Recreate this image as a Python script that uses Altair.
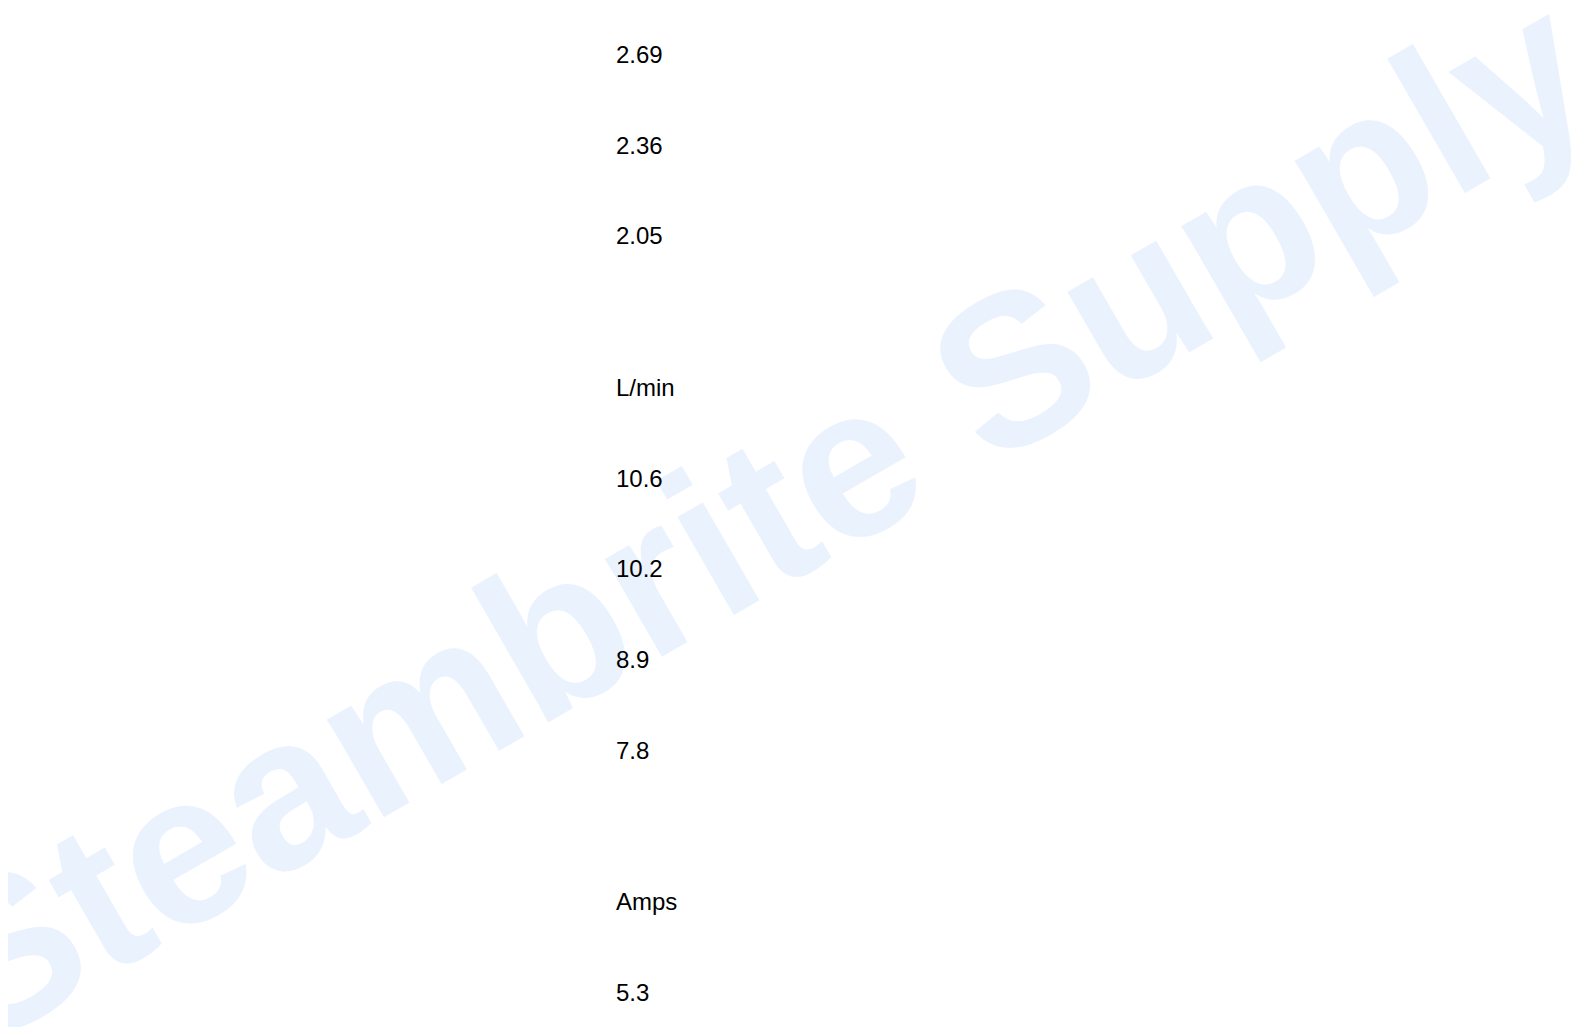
import altair as alt
import pandas as pd

# Values, in display order, grouped as shown
group_a = ["2.69", "2.36", "2.05"]
group_b = ["L/min", "10.6", "10.2", "8.9", "7.8"]
group_c = ["Amps", "5.3"]
watermark = ["Steambrite Supply"]

groups = [group_a, group_b, group_c]
rows = []
i = 0
for g, labels in enumerate(groups):
    for lab in labels:
        rows.append({"label": lab, "g": g, "i": i})
        i += 1
df = pd.DataFrame(rows)

FONT = "Liberation Sans"
W, H = 1572, 1019

labels_layer = (
    alt.Chart(df)
    .transform_calculate(slot="3 * datum.i + 2 * datum.g")
    .mark_text(align="left", baseline="middle", fontSize=24, font=FONT, color="#000000")
    .encode(
        x=alt.value(608),
        y=alt.Y("slot:Q", axis=None,
                scale=alt.Scale(domain=[-1.58, 32.09], reverse=True, zero=False, nice=False)),
        text="label:N",
    )
)

wm_df = pd.DataFrame({"t": watermark})
wm_layer = (
    alt.Chart(wm_df)
    .mark_text(angle=330, fontSize=214, fontWeight="bold", font=FONT, color="#eaf2fe",
               align="center", baseline="alphabetic")
    .encode(x=alt.value(785), y=alt.value(573), text="t:N")
)

chart = (
    alt.layer(wm_layer, labels_layer)
    .properties(width=W, height=H, padding=0, background="#ffffff",
                autosize=alt.AutoSizeParams(type="none"))
    .configure_view(strokeWidth=0, stroke="transparent")
)

chart.save("out.html", embed_options={"renderer": "svg", "actions": False})
